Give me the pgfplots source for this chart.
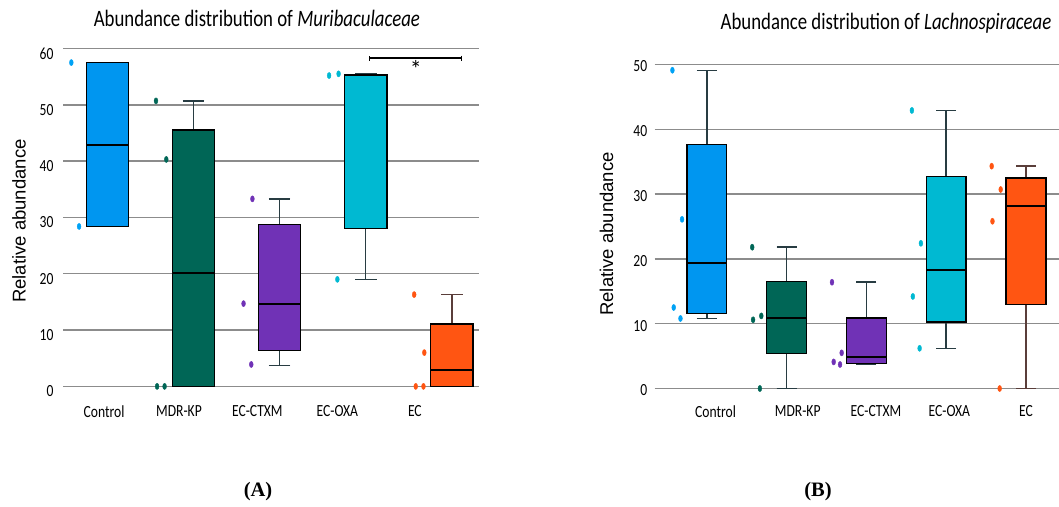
\documentclass[border=0pt]{standalone}
\usepackage{pgfplots}
\pgfplotsset{compat=1.18}
\usepgfplotslibrary{statistics}
\usetikzlibrary{arrows.meta}
\usepackage{fontspec}
\setmainfont{Carlito}
\newfontfamily\cond[FakeStretch=0.8]{Carlito}
\newfontfamily\arial{Liberation Sans}
\newfontfamily\tnr{Liberation Serif}
\definecolor{cctrl}{RGB}{0,150,240}
\definecolor{cctrld}{RGB}{0,162,245}
\definecolor{cmdr}{RGB}{0,102,86}
\definecolor{cctxm}{RGB}{112,50,182}
\definecolor{coxa}{RGB}{0,185,210}
\definecolor{cec}{RGB}{255,85,18}
\definecolor{cwhisk}{RGB}{40,60,66}
\definecolor{cwhiskec}{RGB}{90,62,58}
\definecolor{cgrid}{RGB}{140,140,140}
\pgfplotsset{
  common/.style={
    scale only axis,
    axis line style={draw=none},
    tick style={draw=none},
    ymajorgrids,
    major grid style={cgrid, line width=1.4pt},
    clip=false,
    /pgf/number format/assume math mode=true,
    yticklabel style={font=\cond\fontsize{17}{18}\selectfont, anchor=east},
    xticklabel style={font=\cond\fontsize{17}{18}\selectfont, anchor=center},
    ylabel style={font=\arial\fontsize{18.5}{19}\selectfont, anchor=center},
    title style={font=\cond\fontsize{23.5}{24}\selectfont, anchor=center},
    boxplot/draw direction=y,
    boxplot/every box/.style={draw=black, line width=1.4pt},
    boxplot/every whisker/.style={draw=cwhisk, line width=1.4pt},
    boxplot/every median/.style={draw=black, line width=2pt},
  },
  ecbox/.style={fill=cec,
    boxplot/every whisker/.style={draw=cwhiskec, line width=1.4pt},
    boxplot/every median/.style={draw=black, line width=2pt}},
  dots/.style={only marks, mark=*, mark size=3.1pt, color=#1, mark options={xscale=0.62, fill=#1, draw=none}},
}
\begin{document}
\begin{tikzpicture}
\path[use as bounding box] (0pt,0pt) rectangle (1059pt,506pt);
% ---------------- Panel A ----------------
\begin{axis}[common,
  at={(63pt,119.6pt)}, anchor=south west,
  width=416pt, height=337.9pt,
  xmin=0.483, xmax=5.315, ymin=0, ymax=60,
  ytick={0,10,20,30,40,50,60},
  yticklabel style={xshift=-6pt, yshift=-5pt},
  xtick={0.96,1.83,2.74,3.67,4.57},
  xticklabels={Control,MDR-KP,EC-CTXM,EC-OXA,EC},
  xticklabel style={yshift=-25pt},
  ylabel={Relative abundance},
  ylabel style={at={(axis description cs:-0.106,0.489)}},
  title={Abundance distribution of \textit{Muribaculaceae}},
  title style={at={(axis description cs:0.466,1.071)}},
  boxplot/box extend=0.49, boxplot/whisker extend=0.25,
]
\addplot[fill=cctrl, boxplot prepared={lower whisker=28.4, lower quartile=28.4, median=42.9, upper quartile=57.5, upper whisker=57.5, draw position=1}] coordinates {};
\addplot[fill=cmdr, boxplot prepared={lower whisker=0, lower quartile=0, median=20.2, upper quartile=45.5, upper whisker=50.7, draw position=2}] coordinates {};
\addplot[fill=cctxm, boxplot prepared={lower whisker=3.7, lower quartile=6.4, median=14.6, upper quartile=28.7, upper whisker=33.3, draw position=3}] coordinates {};
\addplot[fill=coxa, boxplot prepared={lower whisker=19.0, lower quartile=28.0, median=55.3, upper quartile=55.4, upper whisker=55.5, draw position=4}] coordinates {};
\addplot[ecbox, boxplot prepared={lower whisker=0, lower quartile=0, median=3.0, upper quartile=11.1, upper whisker=16.3, draw position=5}] coordinates {};
\addplot[dots=cctrld] coordinates {(0.58,57.5) (0.67,28.4)};
\addplot[dots=cmdr] coordinates {(1.563,50.7) (1.683,40.3) (1.576,0) (1.663,0)};
\addplot[dots=cctxm] coordinates {(2.683,33.3) (2.58,14.7) (2.67,3.9)};
\addplot[dots=coxa] coordinates {(3.574,55.2) (3.684,55.5) (3.67,19.0)};
\addplot[dots=cec] coordinates {(4.562,16.3) (4.68,6.0) (4.58,0) (4.67,0)};
\addplot[black, line width=1.3pt, {Bar[width=5pt]}-{Bar[width=5pt]}] coordinates {(4.037,58.3) (5.117,58.3)};
\node[font=\fontsize{24}{24}\selectfont] at (axis cs:4.58,56.3) {*};
\end{axis}
% ---------------- Panel B ----------------
\begin{axis}[common,
  at={(654.7pt,117.5pt)}, anchor=south west,
  width=404.3pt, height=324.1pt,
  xmin=0.347, xmax=5.414, ymin=0, ymax=50,
  ytick={0,10,20,30,40,50},
  yticklabel style={xshift=-4pt, yshift=-2pt},
  xtick={1.11,2.14,3.12,4.04,5.0},
  xticklabels={Control,MDR-KP,EC-CTXM,EC-OXA,EC},
  xticklabel style={yshift=-23pt},
  ylabel={Relative abundance},
  ylabel style={at={(axis description cs:-0.119,0.477)}},
  title={Abundance distribution of \textit{Lachnospiraceae}},
  title style={at={(axis description cs:0.572,1.109)}},
  boxplot/box extend=0.5, boxplot/whisker extend=0.25,
]
\addplot[fill=cctrl, boxplot prepared={lower whisker=10.8, lower quartile=11.6, median=19.3, upper quartile=37.6, upper whisker=49.1, draw position=1}] coordinates {};
\addplot[fill=cmdr, boxplot prepared={lower whisker=0, lower quartile=5.4, median=10.9, upper quartile=16.5, upper whisker=21.8, draw position=2}] coordinates {};
\addplot[fill=cctxm, boxplot prepared={lower whisker=3.7, lower quartile=3.9, median=4.8, upper quartile=10.9, upper whisker=16.4, draw position=3}] coordinates {};
\addplot[fill=coxa, boxplot prepared={lower whisker=6.2, lower quartile=10.25, median=18.3, upper quartile=32.7, upper whisker=42.9, draw position=4}] coordinates {};
\addplot[ecbox, boxplot prepared={lower whisker=0, lower quartile=13.0, median=28.2, upper quartile=32.5, upper whisker=34.3, draw position=5}] coordinates {};
\addplot[dots=cctrld] coordinates {(0.569,49.1) (0.69,26.1) (0.585,12.5) (0.67,10.8)};
\addplot[dots=cmdr] coordinates {(1.569,21.8) (1.58,10.6) (1.683,11.2) (1.665,0)};
\addplot[dots=cctxm] coordinates {(2.569,16.4) (2.59,4.1) (2.67,3.7) (2.69,5.5)};
\addplot[dots=coxa] coordinates {(3.57,42.9) (3.683,22.4) (3.582,14.2) (3.667,6.2)};
\addplot[dots=cec] coordinates {(4.57,34.3) (4.683,30.7) (4.58,25.8) (4.67,0)};
\end{axis}
\node[font=\tnr\bfseries\fontsize{20.5}{21}\selectfont] at (258pt,14pt) {(A)};
\node[font=\tnr\bfseries\fontsize{20.5}{21}\selectfont] at (818pt,14pt) {(B)};
\end{tikzpicture}
\end{document}
